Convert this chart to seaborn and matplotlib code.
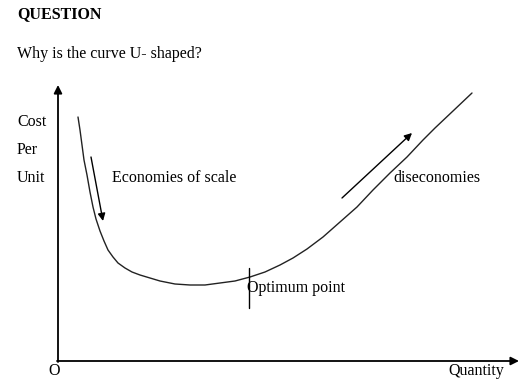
import matplotlib
matplotlib.use("Agg")
import matplotlib.pyplot as plt
import seaborn as sns
import pandas as pd

# Curve (pixel-space reading of the reference diagram)
curve_x = [78, 80, 82, 84, 87, 90, 93, 96, 100, 104, 108, 113, 118, 125, 132, 140, 150, 160, 175, 190,
           205, 220, 235, 250, 265, 280, 293, 307, 323, 340, 357, 373, 390, 407, 423, 435, 453, 472]
curve_y = [117, 130, 145, 160, 175, 192, 207, 219, 231, 241, 250, 257, 263, 268, 272, 275, 278, 281, 284, 285,
           285, 283, 281, 277, 272, 265, 258, 249, 237, 222, 207, 190, 173, 157, 140, 128, 111, 93]

title_text = "QUESTION"
question_text = "Why is the curve U- shaped?"
y_label_lines = ["Cost", "Per", "Unit"]
x_label = "Quantity"
origin_label = "O"
econ_label = "Economies of scale"
diseconomies_label = "diseconomies"
optimum_label = "Optimum point"

sns.set_style("white")
plt.rcParams['font.family'] = ['Liberation Serif', 'DejaVu Serif']

fig = plt.figure(figsize=(5.31, 3.89), dpi=100)
ax = fig.add_axes([0, 0, 1, 1])

df = pd.DataFrame({"x": curve_x, "y": curve_y})
sns.lineplot(data=df, x="x", y="y", ax=ax, color="#222222", lw=1.0, sort=False, estimator=None)
ax.set_xlim(0, 531)
ax.set_ylim(389, 0)
ax.set_xlabel("")
ax.set_ylabel("")
ax.axis("off")

# Axes with arrows
ax.annotate("", xy=(58, 85), xytext=(58, 362),
            arrowprops=dict(arrowstyle="-|>", color="black", lw=1.3, mutation_scale=12, shrinkA=0, shrinkB=0))
ax.annotate("", xy=(519, 361), xytext=(57, 361),
            arrowprops=dict(arrowstyle="-|>", color="black", lw=1.3, mutation_scale=12, shrinkA=0, shrinkB=0))

# Direction arrows
ax.annotate("", xy=(103, 221), xytext=(91, 157),
            arrowprops=dict(arrowstyle="-|>", color="black", lw=1.0, mutation_scale=11, shrinkA=0, shrinkB=0))
ax.annotate("", xy=(412, 133), xytext=(342, 198),
            arrowprops=dict(arrowstyle="-|>", color="black", lw=1.0, mutation_scale=11, shrinkA=0, shrinkB=0))

# Optimum tick
ax.plot([249, 249], [268, 308], color="black", lw=1.0)

fs = 11.5
kw = dict(fontsize=fs, va="baseline", ha="left", color="black")
ax.text(17, 18, title_text, fontweight="bold", **kw)
ax.text(17, 58, question_text, **kw)
for lbl, yb in zip(y_label_lines, [126, 154, 182]):
    ax.text(17, yb, lbl, **kw)
ax.text(112, 182, econ_label, **kw)
ax.text(393, 182, diseconomies_label, **kw)
ax.text(247, 292, optimum_label, **kw)
ax.text(448, 375, x_label, **kw)
ax.text(48, 375, origin_label, **kw)

fig.savefig("out.png", dpi=100, facecolor="white")
